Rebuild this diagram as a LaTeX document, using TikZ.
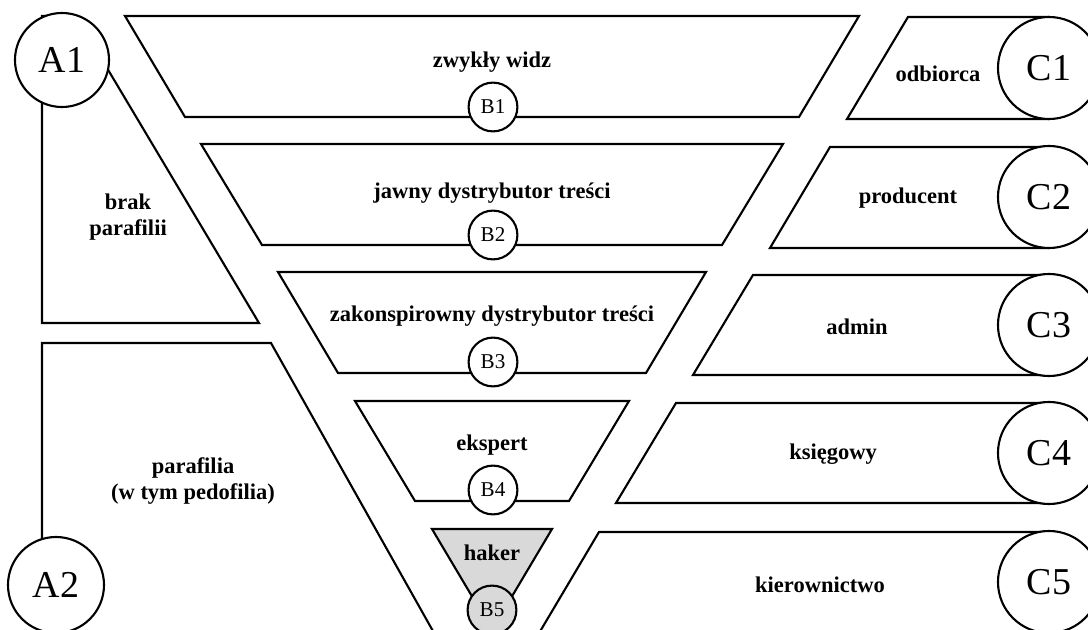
\documentclass[tikz,border=0pt]{standalone}
\usepackage{fontspec}
\setmainfont{Liberation Serif}
\usepackage{xcolor}
\usepackage{tikz}

\definecolor{hakergray}{RGB}{217,217,217}

\begin{document}
\begin{tikzpicture}[x=0.025cm, y=-0.025cm,
        band/.style={draw, fill=white, line width=1.5pt, line join=miter},
        lbl/.style={font=\fontsize{16}{19}\selectfont\bfseries, align=center},
        bigcirc/.style={draw, circle, fill=white, line width=1.5pt, inner sep=0pt, font=\fontsize{27}{30}\selectfont},
        smallcirc/.style={draw, circle, fill=white, line width=1.5pt, inner sep=0pt, minimum size=1.22cm, font=\fontsize{15}{17}\selectfont}]
        \useasboundingbox (0,0) rectangle (1088,630);
        \clip (0,0) rectangle (1088,630);

        % left side
        \draw[band] (42,16) -- (76,16) -- (259,323) -- (42,323) -- cycle;
        \draw[band] (42,343) -- (271,343) -- (438,640) -- (42,640) -- cycle;
        \node[bigcirc, minimum size=2.35cm] (a1) at (62,60) {A1};
        \node[bigcirc, minimum size=2.4cm] (a2) at (56,585) {A2};
        \node[lbl] (brak) at (128,217) {brak\\parafilii};
        \node[lbl] (parafilia) at (193,481) {parafilia\\(w tym pedofilia)};

        % funnel
        \draw[band] (125,16) -- (859,16) -- (799,117) -- (185,117) -- cycle;
        \draw[band] (201,144) -- (783,144) -- (722,245) -- (262,245) -- cycle;
        \draw[band] (278,272) -- (706,272) -- (646,373) -- (338,373) -- cycle;
        \draw[band] (355,401) -- (629,401) -- (569,501) -- (415,501) -- cycle;
        \draw[band, fill=hakergray] (432,529) -- (552,529) -- (492,630) -- cycle;
        \node[lbl] (widz) at (492,62) {zwykły widz};
        \node[lbl] (jawny) at (492,193) {jawny dystrybutor treści};
        \node[lbl] (zakon) at (492,316) {zakonspirowny dystrybutor treści};
        \node[lbl] (ekspert) at (492,445) {ekspert};
        \node[lbl] (haker) at (492,553) {haker};
        \node[smallcirc] (b1) at (493,107) {B1};
        \node[smallcirc] (b2) at (493,235) {B2};
        \node[smallcirc] (b3) at (493,362) {B3};
        \node[smallcirc] (b4) at (493,490) {B4};
        \node[smallcirc, fill=hakergray] (b5) at (492,610) {B5};

        % right side
        \draw[band] (908,17) -- (1048,17) -- (1048,119) -- (847,119) -- cycle;
        \draw[band] (830,147) -- (1048,147) -- (1048,248) -- (770,248) -- cycle;
        \draw[band] (753,275) -- (1048,275) -- (1048,375) -- (693,375) -- cycle;
        \draw[band] (676,403) -- (1048,403) -- (1048,503) -- (616,503) -- cycle;
        \draw[band] (599,532) -- (1048,532) -- (1048,645) -- (532,645) -- cycle;
        \node[bigcirc, minimum size=2.55cm] (c1) at (1049,68) {C1};
        \node[bigcirc, minimum size=2.55cm] (c2) at (1049,197) {C2};
        \node[bigcirc, minimum size=2.55cm] (c3) at (1049,325) {C3};
        \node[bigcirc, minimum size=2.55cm] (c4) at (1049,453) {C4};
        \node[bigcirc, minimum size=2.55cm] (c5) at (1049,582) {C5};
        \node[lbl] (odbiorca) at (938,74) {odbiorca};
        \node[lbl] (producent) at (908,198) {producent};
        \node[lbl] (admin) at (857,327) {admin};
        \node[lbl] (ksiegowy) at (833,454) {księgowy};
        \node[lbl] (kierownictwo) at (820,585) {kierownictwo};
    \end{tikzpicture}
\end{document}
